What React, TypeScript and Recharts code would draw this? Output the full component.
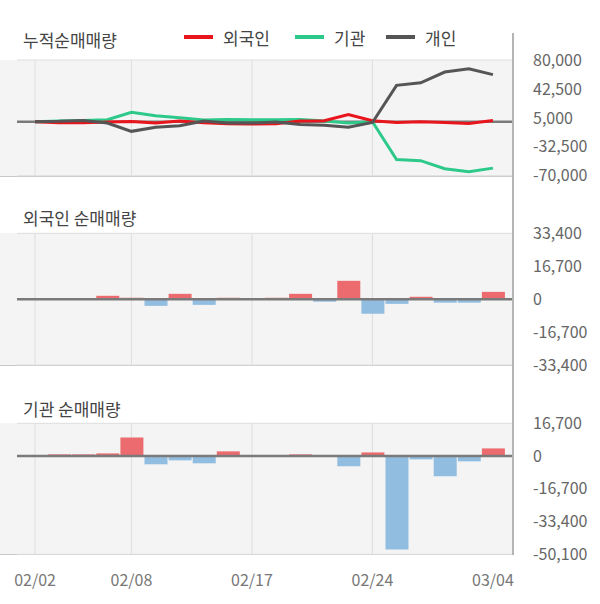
import React from "react";
import {
  ComposedChart,
  Line,
  Bar,
  Cell,
  XAxis,
  YAxis,
  CartesianGrid,
  ReferenceLine,
} from "recharts";

const dates = [
  "02/02", "02/03", "02/04", "02/05", "02/08", "02/09", "02/10", "02/15", "02/16", "02/17",
  "02/18", "02/19", "02/22", "02/23", "02/24", "02/25", "02/26", "03/02", "03/03", "03/04",
];
const tickDates = ["02/02", "02/08", "02/17", "02/24", "03/04"];
const gridDates = ["02/02", "02/08", "02/17", "02/24"];

// cumulative net buying
const foreignCum = [0, -1300, -1300, -400, 400, -1700, 800, -1200, -2800, -3000, -2500, 800, 1200, 9300, 1300, -900, 0, -1000, -2200, 1500];
const instCum = [0, 800, 1500, 2600, 12100, 7800, 5200, 2200, 3000, 2600, 2600, 3000, 1000, -1700, 0, -49000, -50500, -60900, -64900, -60200];
const indivCum = [0, 500, 1700, -1700, -12500, -7300, -5200, 900, -1700, -1700, -500, -3500, -4500, -7300, -1000, 47100, 50500, 64400, 68700, 61000];

// daily net buying
const foreignDaily = [0, 0, 0, 1700, 700, -3400, 2700, -2900, 700, 0, 700, 2700, -1300, 9300, -7400, -2400, 1200, -1800, -1800, 3700];
const instDaily = [0, 850, 850, 1350, 9450, -4200, -2200, -3700, 2400, 0, 0, 850, 0, -5200, 1850, -47700, -1700, -10300, -2700, 3900];

const cumTicks = [80000, 42500, 5000, -32500, -70000];
const foreignTicks = [33400, 16700, 0, -16700, -33400];
const instTicks = [16700, 0, -16700, -33400, -50100];

const FONT = "'Noto Sans CJK KR', 'Noto Sans', sans-serif";
const RED = "#e8151c";
const GREEN = "#2dc98a";
const DARK = "#555555";
const UP = "#ec6b6e";
const DOWN = "#91bde0";
const GRID = "#dedede";
const BG = "#f4f4f4";

const cumData = dates.map((d, i) => ({
  date: d,
  foreign: foreignCum[i],
  inst: instCum[i],
  indiv: indivCum[i],
}));
const foreignData = dates.map((d, i) => ({ date: d, value: foreignDaily[i] }));
const instData = dates.map((d, i) => ({ date: d, value: instDaily[i] }));

const fmt = (v: number) => v.toLocaleString("en-US");

const yTick = { fill: "#666", fontSize: 16, fontFamily: FONT };

const xAxisProps = {
  dataKey: "date",
  type: "category" as const,
  scale: "band" as const,
  padding: { left: 6, right: 8 },
};

type PanelProps = {
  top: number;
  height: number;
  margin: { top: number; right: number; bottom: number; left: number };
  data: any[];
  valueKey: string;
  domain: [number, number];
  ticks: number[];
  showDates?: boolean;
  children: React.ReactNode;
};

// grid layer sits behind the marks layer, both share the same axes
const Panel = ({ top, height, margin, data, valueKey, domain, ticks, showDates, children }: PanelProps) => {
  const axes = (visible: boolean) => [
    showDates ? (
      <XAxis
        key="x"
        {...xAxisProps}
        height={40}
        ticks={tickDates}
        interval={0}
        axisLine={false}
        tickLine={false}
        tickMargin={14}
        tick={visible ? { fill: "#777", fontSize: 16, fontFamily: FONT } : false}
      />
    ) : (
      <XAxis key="x" {...xAxisProps} hide />
    ),
    <YAxis
      key="y"
      orientation="right"
      width={87}
      domain={domain}
      ticks={ticks}
      interval={0}
      axisLine={false}
      tickLine={false}
      tickMargin={14}
      tick={visible ? yTick : false}
      tickFormatter={fmt}
    />,
  ];
  return (
    <>
      <div style={{ position: "absolute", left: 0, top }}>
        <ComposedChart width={600} height={height} data={data} margin={margin}>
          <CartesianGrid horizontal vertical={false} stroke={GRID} />
          {axes(false)}
          <Line dataKey={valueKey} stroke="none" dot={false} activeDot={false} isAnimationActive={false} />
          {gridDates.map((d) => (
            <ReferenceLine key={d} x={d} stroke={GRID} />
          ))}
        </ComposedChart>
      </div>
      <div style={{ position: "absolute", left: 0, top }}>
        <ComposedChart width={600} height={height} data={data} margin={margin}>
          {axes(true)}
          {children}
        </ComposedChart>
      </div>
    </>
  );
};

const PanelBg = ({ top, bottom }: { top: number; bottom: number }) => (
  <div
    style={{
      position: "absolute",
      left: 0,
      top,
      width: 513,
      height: bottom - top,
      background: BG,
      borderBottom: "1.5px solid #c8c8c8",
      boxSizing: "border-box",
    }}
  />
);

const Title = ({ text, top }: { text: string; top: number }) => (
  <div
    style={{
      position: "absolute",
      left: 23,
      top,
      fontSize: 17,
      color: "#444",
      fontFamily: FONT,
      lineHeight: "20px",
      whiteSpace: "nowrap",
    }}
  >
    {text}
  </div>
);

const LegendItem = ({ color, label, left }: { color: string; label: string; left: number }) => (
  <div style={{ position: "absolute", left, top: 26, display: "flex", alignItems: "center", height: 22 }}>
    <div style={{ width: 29, height: 4.5, background: color }} />
    <span style={{ marginLeft: 10, fontSize: 17, color: "#444", fontFamily: FONT }}>{label}</span>
  </div>
);

const App = () => {
  return (
    <div style={{ position: "absolute", left: 0, top: 0, width: 600, height: 604, background: "#fff", fontFamily: FONT }}>
      <PanelBg top={60} bottom={176.5} />
      <PanelBg top={233.3} bottom={366} />
      <PanelBg top={423.3} bottom={555.5} />

      <Title text="누적순매매량" top={30} />
      <Title text="외국인 순매매량" top={208} />
      <Title text="기관 순매매량" top={399} />

      <LegendItem color={RED} label="외국인" left={184} />
      <LegendItem color={GREEN} label="기관" left={295} />
      <LegendItem color={DARK} label="개인" left={386} />

      {/* cumulative */}
      <Panel
        top={0}
        height={190}
        margin={{ top: 60, right: 0, bottom: 14.3, left: 17 }}
        data={cumData}
        valueKey="foreign"
        domain={[-70000, 80000]}
        ticks={cumTicks}
      >
        <ReferenceLine y={0} stroke="#7a7a7a" strokeWidth={2.5} />
        <Line dataKey="inst" stroke={GREEN} strokeWidth={3} dot={false} isAnimationActive={false} />
        <Line dataKey="foreign" stroke={RED} strokeWidth={3} dot={false} isAnimationActive={false} />
        <Line dataKey="indiv" stroke={DARK} strokeWidth={3} dot={false} isAnimationActive={false} />
      </Panel>

      {/* foreign daily */}
      <Panel
        top={200}
        height={180}
        margin={{ top: 33.3, right: 0, bottom: 15, left: 17 }}
        data={foreignData}
        valueKey="value"
        domain={[-33400, 33400]}
        ticks={foreignTicks}
      >
        <Bar dataKey="value" barSize={23} isAnimationActive={false}>
          {foreignData.map((e, i) => (
            <Cell key={i} fill={e.value >= 0 ? UP : DOWN} />
          ))}
        </Bar>
        <ReferenceLine y={0} stroke="#7a7a7a" strokeWidth={2.5} />
      </Panel>

      {/* institution daily */}
      <Panel
        top={400}
        height={204}
        margin={{ top: 23.3, right: 0, bottom: 9.7, left: 17 }}
        data={instData}
        valueKey="value"
        domain={[-50100, 16700]}
        ticks={instTicks}
        showDates
      >
        <Bar dataKey="value" barSize={23} isAnimationActive={false}>
          {instData.map((e, i) => (
            <Cell key={i} fill={e.value >= 0 ? UP : DOWN} />
          ))}
        </Bar>
        <ReferenceLine y={0} stroke="#7a7a7a" strokeWidth={2.5} />
      </Panel>

      {/* right axis line */}
      <div style={{ position: "absolute", left: 512, top: 33, width: 2, height: 522, background: "#b4b4b4" }} />
    </div>
  );
};

export default App;
